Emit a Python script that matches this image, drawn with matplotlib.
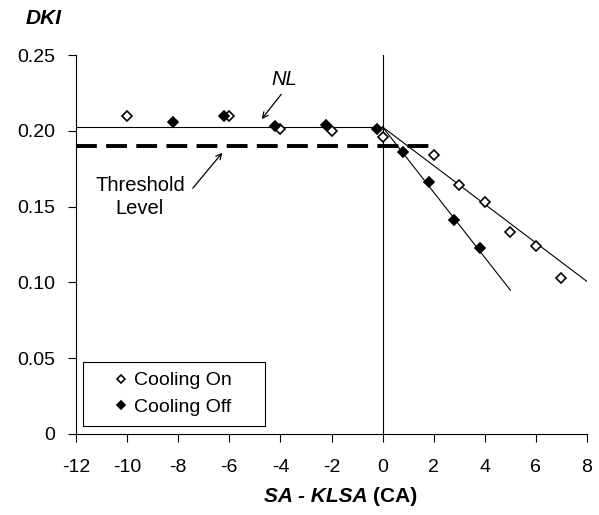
import matplotlib
matplotlib.use("Agg")
import matplotlib.pyplot as plt
from matplotlib.patches import Rectangle
import numpy as np

plt.rcParams['font.family'] = ['Liberation Sans', 'DejaVu Sans']
plt.rcParams['lines.scale_dashes'] = False

# Data
on_x = [-10, -6, -4, -2, 0, 2, 3, 4, 5, 6, 7]
on_y = [0.210, 0.210, 0.201, 0.200, 0.196, 0.184, 0.164, 0.153, 0.133, 0.124, 0.103]
off_x = [-8.2, -6.2, -4.2, -2.2, -0.2, 0.8, 1.8, 2.8, 3.8]
off_y = [0.206, 0.210, 0.203, 0.204, 0.201, 0.186, 0.166, 0.141, 0.123]

nl_x = [-12, 0]
nl_y = [0.2025, 0.2025]
on_fit_x = [0, 8]
on_fit_y = [0.2025, 0.1006]
off_fit_x = [0, 5]
off_fit_y = [0.2025, 0.0949]
thr_x = [-12, 2]
thr_y = [0.19, 0.19]

xticks = [-12, -10, -8, -6, -4, -2, 0, 2, 4, 6, 8]
yticks = [0, 0.05, 0.10, 0.15, 0.20, 0.25]
ytick_labels = ['0', '0.05', '0.10', '0.15', '0.20', '0.25']

fig = plt.figure(figsize=(5.99, 5.15), dpi=100)
ax = fig.add_axes([76/599, 81/515, 511/599, 379/515])

ax.plot(nl_x, nl_y, color='black', lw=0.8, zorder=2)
ax.plot(on_fit_x, on_fit_y, color='black', lw=0.8, zorder=2)
ax.plot(off_fit_x, off_fit_y, color='black', lw=0.8, zorder=2)
ax.plot(thr_x, thr_y, color='black', lw=2.8, dashes=(15, 6.7), zorder=2)
ax.axvline(0, color='black', lw=0.8, zorder=1)

ax.plot(on_x, on_y, linestyle='none', marker='D', ms=5, mfc='white', mec='black',
        mew=1.2, label='Cooling On', zorder=3)
ax.plot(off_x, off_y, linestyle='none', marker='D', ms=5, mfc='black', mec='black',
        mew=1.2, label='Cooling Off', zorder=3)

ax.set_xlim(-12, 8)
ax.set_ylim(0, 0.25)
ax.set_xticks(xticks)
ax.set_xticklabels([str(t) for t in xticks])
ax.set_yticks(yticks)
ax.set_yticklabels(ytick_labels)
ax.tick_params(direction='out', length=6, width=0.8, labelsize=14, colors='black')
ax.tick_params(axis='x', pad=12)
ax.tick_params(axis='y', pad=9)
for s in ['top', 'right']:
    ax.spines[s].set_visible(False)
for s in ['left', 'bottom']:
    ax.spines[s].set_linewidth(0.8)

# Legend box
bx, by, bw, bh = 0.0137, 0.021, 0.356, 0.17
ax.add_patch(Rectangle((bx, by), bw, bh, transform=ax.transAxes, facecolor='white',
                       edgecolor='black', lw=0.8, zorder=4))
leg = ax.legend(loc='center', bbox_to_anchor=(bx + bw / 2, by + bh / 2),
                fontsize=14, frameon=False, handlelength=0.5, handletextpad=0.45,
                borderpad=0.0, labelspacing=0.45, markerscale=0.85)
leg.set_zorder(5)

# Annotations
ax.text(-3.85, 0.2337, 'NL', fontsize=14.5, style='italic', ha='center', va='center')
ax.annotate('', xy=(-4.8, 0.2063), xytext=(-3.9, 0.2255),
            arrowprops=dict(arrowstyle='->', color='black', lw=0.9))
ax.text(-9.5, 0.164, 'Threshold', fontsize=14.5, ha='center', va='center')
ax.text(-9.5, 0.149, 'Level', fontsize=14.5, ha='center', va='center')
ax.annotate('', xy=(-6.2, 0.187), xytext=(-7.5, 0.1607),
            arrowprops=dict(arrowstyle='->', color='black', lw=0.9))

fig.text(44/599, 1 - 19/515, 'DKI', fontsize=15, fontweight='bold', style='italic',
         ha='center', va='center')
fig.text(368/599, 1 - 497/515, 'SA - KLSA', fontsize=15, fontweight='bold',
         style='italic', ha='right', va='center')
fig.text(373/599, 1 - 497/515, '(CA)', fontsize=15, fontweight='bold',
         ha='left', va='center')

fig.savefig('out.png', dpi=100)
